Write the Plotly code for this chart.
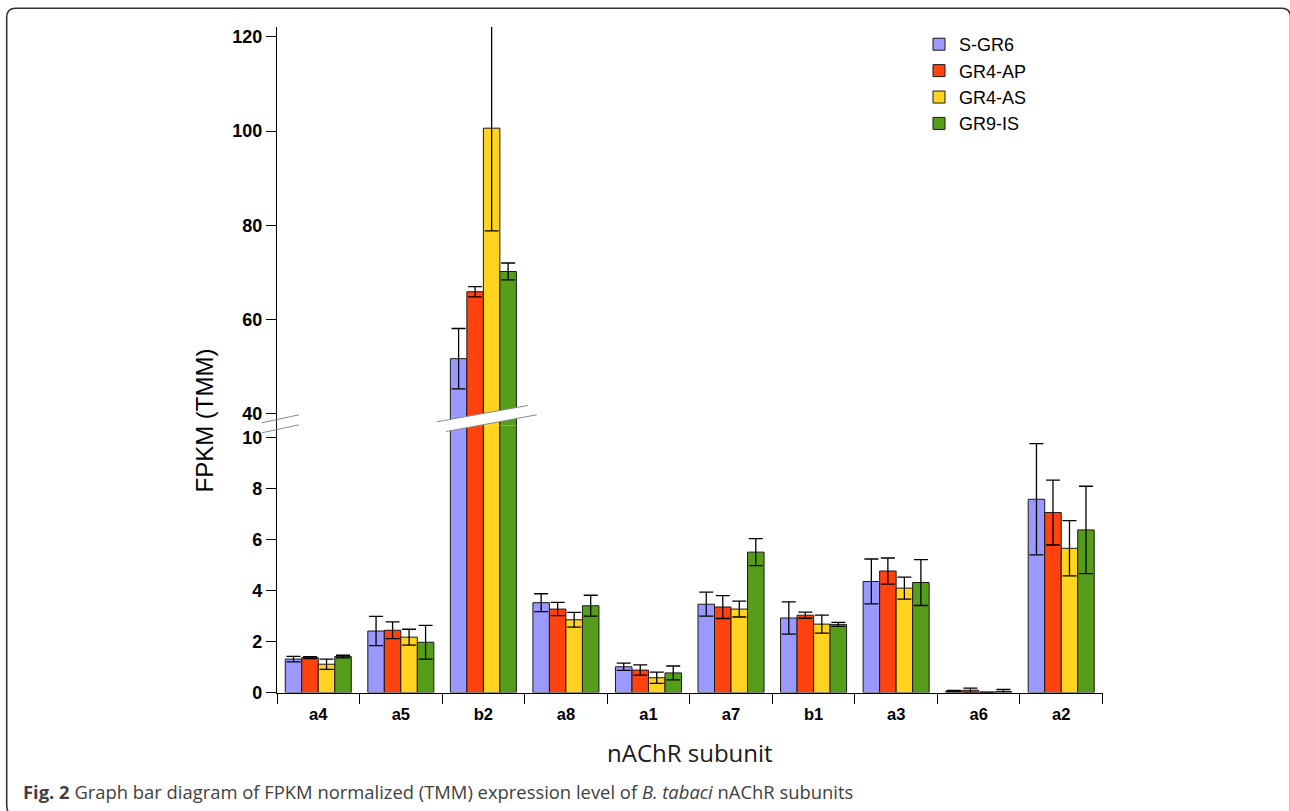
import plotly.graph_objects as go

# ---------------- data ----------------
categories = ["a4", "a5", "b2", "a8", "a1", "a7", "b1", "a3", "a6", "a2"]
series_names = ["S-GR6", "GR4-AP", "GR4-AS", "GR9-IS"]

s_gr6 = [1.31, 2.41, 51.7, 3.52, 1.01, 3.46, 2.92, 4.35, 0.06, 7.57]
gr4_ap = [1.37, 2.44, 65.9, 3.27, 0.88, 3.35, 3.03, 4.76, 0.09, 7.05]
gr4_as = [1.11, 2.17, 100.6, 2.85, 0.58, 3.27, 2.68, 4.09, 0.01, 5.65]
gr9_is = [1.41, 1.97, 70.2, 3.40, 0.77, 5.50, 2.67, 4.31, 0.04, 6.37]

s_gr6_err = [0.11, 0.57, 6.4, 0.35, 0.14, 0.47, 0.63, 0.88, 0.02, 2.18]
gr4_ap_err = [0.04, 0.33, 1.1, 0.26, 0.20, 0.45, 0.12, 0.51, 0.08, 1.27]
gr4_as_err = [0.20, 0.31, 21.8, 0.29, 0.22, 0.31, 0.35, 0.43, 0.01, 1.08]
gr9_is_err = [0.05, 0.66, 1.8, 0.41, 0.27, 0.53, 0.08, 0.90, 0.08, 1.71]

lower_ticks = [0, 2, 4, 6, 8, 10]
upper_ticks = [40, 60, 80, 100, 120]

colors = ["#9999ff", "#ff420e", "#ffd320", "#579d1c"]

values = [s_gr6, gr4_ap, gr4_as, gr9_is]
errors = [s_gr6_err, gr4_ap_err, gr4_as_err, gr9_is_err]

# ---------------- layout geometry ----------------
W, H = 1290, 811          # target picture size
FIG_H = 822               # requested figure height (rendered picture is 811 tall)


def px(x):
    return x / W


def py(y):
    return 1 - y / H


x_left, x_right = 277.0, 1102.5
y_bottom, y_break, y_top = 691.7, 425.0, 27.0
lower_scale = 25.5       # px per unit
upper_scale = 4.7075     # px per unit
upper_40_px = 413.3

lower_range = [0, (y_bottom - y_break) / lower_scale]
upper_range = [40 - (y_break - upper_40_px) / upper_scale,
               40 + (upper_40_px - y_top) / upper_scale]

fig = go.Figure()

for name, vals, errs, col in zip(series_names, values, errors, colors):
    for axes, show in ((("x", "y"), True), (("x2", "y2"), False)):
        fig.add_trace(go.Bar(
            x=categories, y=vals, name=name, showlegend=show,
            xaxis=axes[0], yaxis=axes[1],
            marker=dict(color=col, line=dict(color="#1a1a1a", width=1)),
            error_y=dict(type="data", array=errs, visible=True,
                         color="black", thickness=1.3, width=7),
        ))

tickfont = dict(family="Liberation Sans", size=18, color="black")

fig.update_layout(
    width=W, height=FIG_H,
    margin=dict(l=0, r=0, t=0, b=0),
    paper_bgcolor="white", plot_bgcolor="rgba(0,0,0,0)",
    barmode="group", bargap=0.2, bargroupgap=0,
    showlegend=True,
    legend=dict(x=px(919), y=py(26), xanchor="left", yanchor="top",
                tracegroupgap=0,
                font=dict(family="Liberation Sans", size=18, color="black"),
                bgcolor="rgba(0,0,0,0)", itemclick=False),
    xaxis=dict(domain=[px(x_left), px(x_right)], anchor="y",
               type="category", categoryorder="array", categoryarray=categories,
               showline=True, linecolor="black", linewidth=1.3,
               ticks="outside", tickson="boundaries", ticklen=10,
               tickwidth=1.3, tickcolor="black",
               tickfont=dict(family="Liberation Sans", size=16.5, color="black",
                             weight="bold"),
               ticklabelstandoff=6,
               showgrid=False, zeroline=False),
    xaxis2=dict(domain=[px(x_left), px(x_right)], anchor="y2",
                matches="x", visible=False, type="category",
                categoryorder="array", categoryarray=categories),
    yaxis=dict(domain=[py(y_bottom), py(y_break)], anchor="x",
               range=lower_range, tickvals=lower_ticks,
               showline=True, linecolor="black", linewidth=1.3,
               ticks="outside", ticklen=10, tickwidth=1.3, tickcolor="black",
               tickfont=dict(tickfont, weight="bold"),
               showgrid=False, zeroline=False),
    yaxis2=dict(domain=[py(y_break), py(y_top)], anchor="x2",
                range=upper_range, tickvals=upper_ticks,
                showline=True, linecolor="black", linewidth=1.3,
                ticks="outside", ticklen=10, tickwidth=1.3, tickcolor="black",
                tickfont=dict(tickfont, weight="bold"),
                showgrid=False, zeroline=False),
)

# ---------------- axis titles and caption ----------------
fig.add_annotation(text="FPKM (TMM)", x=px(205), y=py(420), xref="paper",
                   yref="paper", xanchor="center", yanchor="middle",
                   textangle=-90, showarrow=False,
                   font=dict(family="Liberation Sans", size=24, color="black"))
fig.add_annotation(text="nAChR subunit", x=px((x_left + x_right) / 2),
                   y=py(752), xref="paper", yref="paper", xanchor="center",
                   yanchor="middle", showarrow=False,
                   font=dict(family="Open Sans", size=24, color="#1a1a1a"))
fig.add_annotation(
    text="<b>Fig. 2</b> Graph bar diagram of FPKM normalized (TMM) expression "
         "level of <i>B. tabaci</i> nAChR subunits",
    x=px(21), y=py(791), xref="paper", yref="paper", xanchor="left",
    yanchor="middle", showarrow=False,
    font=dict(family="Open Sans", size=18.4, color="#404040"))

# ---------------- break decorations ----------------
cat_w = (x_right - x_left) / len(categories)
b2_cx = x_left + (categories.index("b2") + 0.5) * cat_w


def pt(x, y):
    return f"{px(x):.5f},{py(y):.5f}"


band = [(b2_cx - 46.6, y_break - 3.7), (b2_cx + 44.4, y_break - 20.0),
        (b2_cx + 53.4, y_break - 10.7), (b2_cx - 37.3, y_break + 6.0)]
fig.add_shape(type="path", xref="paper", yref="paper",
              path="M" + " L".join(pt(*p) for p in band) + " Z",
              fillcolor="white", line=dict(width=0), layer="above")
for a, b in ((band[0], band[1]), (band[3], band[2])):
    fig.add_shape(type="line", xref="paper", yref="paper",
                  x0=px(a[0]), y0=py(a[1]), x1=px(b[0]), y1=py(b[1]),
                  line=dict(color="#8a8a8a", width=1), layer="above")

for dy in (-2.7, 7.3):
    fig.add_shape(type="line", xref="paper", yref="paper",
                  x0=px(x_left - 15.3), y0=py(y_break + dy),
                  x1=px(x_left + 22.0), y1=py(y_break + dy - 8.0),
                  line=dict(color="#8a8a8a", width=1), layer="above")

# ---------------- frame ----------------
L, T, R, B, r = 6.7, 8.3, 1290.5, 814.0, 9.0
frame = (f"M{pt(L, B - r)} Q{pt(L, B)} {pt(L + r, B)} "
         f"M{pt(L, B - r)} L{pt(L, T + r)} Q{pt(L, T)} {pt(L + r, T)} "
         f"L{pt(R - r, T)} Q{pt(R, T)} {pt(R, T + r)} L{pt(R, B)}")
fig.add_shape(type="path", xref="paper", yref="paper", path=frame,
              line=dict(color="#333333", width=1.6))

fig.write_html("out.html")
